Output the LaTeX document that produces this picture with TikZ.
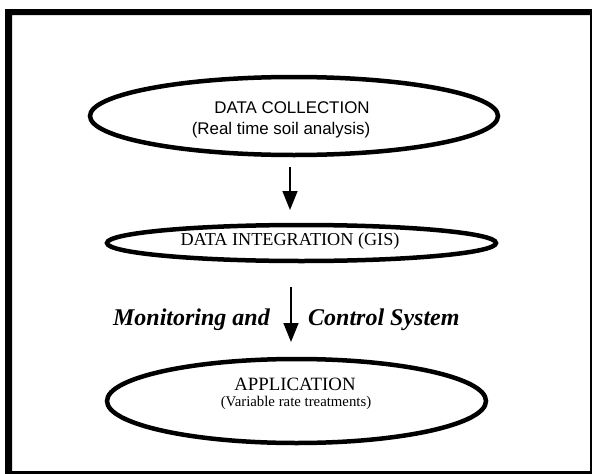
\documentclass[tikz,border=0pt]{standalone}
\usepackage{fontspec}
\setmainfont{Liberation Serif}
\newfontfamily\arialfont{Liberation Sans}
\usetikzlibrary{shapes.geometric,arrows.meta}

\tikzset{
  stage/.style={ellipse, draw, line width=4.5pt, inner sep=0pt, outer sep=0pt},
  lbl/.style={inner sep=0pt, anchor=base},
  flow/.style={line width=1.6pt, -{Triangle[width=15pt,length=19pt]}},
}

\begin{document}
\begin{tikzpicture}[x=1pt,y=-1pt]
  \useasboundingbox (0,0) rectangle (592,474);

  % heavy frame: thick on the left and top, thinner on the right and bottom
  \fill[even odd rule] (5,9) rectangle (592,474) (12,15) rectangle (590,471);

  % stages
  \node[stage, minimum width=408pt, minimum height=78pt] (collect) at (294,116) {};
  \node[stage, minimum width=389pt, minimum height=36pt] (integrate) at (301.5,243) {};
  \node[stage, minimum width=379pt, minimum height=84pt] (apply) at (296.5,401) {};

  % stage labels
  \node[lbl, font=\arialfont\fontsize{16.9}{18}\selectfont] (collectA) at (292,113) {DATA COLLECTION};
  \node[lbl, font=\arialfont\fontsize{16.9}{18}\selectfont] (collectB) at (281,134) {(Real time soil analysis)};
  \node[lbl, font=\fontsize{18.2}{20}\selectfont] (integrateA) at (290,245) {DATA INTEGRATION (GIS)};
  \node[lbl, font=\fontsize{18.8}{20}\selectfont] (applyA) at (295,390) {APPLICATION};
  \node[lbl, font=\fontsize{14.8}{16}\selectfont] (applyB) at (296,406) {(Variable rate treatments)};

  % monitoring caption split around the second arrow
  \node[inner sep=0pt, anchor=base east, font=\bfseries\itshape\fontsize{24}{26}\selectfont] (monL) at (270,325) {Monitoring and};
  \node[inner sep=0pt, anchor=base west, font=\bfseries\itshape\fontsize{24}{26}\selectfont] (monR) at (308,325) {Control System};

  % arrows between stages
  \coordinate (axA) at (290,0);
  \coordinate (axB) at (291,0);
  \draw[flow, shorten <=12pt, shorten >=15pt] (collect.south -| axA) -- (integrate.north -| axA);
  \draw[flow, shorten <=26pt, shorten >=17pt] (integrate.south -| axB) -- (apply.north -| axB);
\end{tikzpicture}
\end{document}
